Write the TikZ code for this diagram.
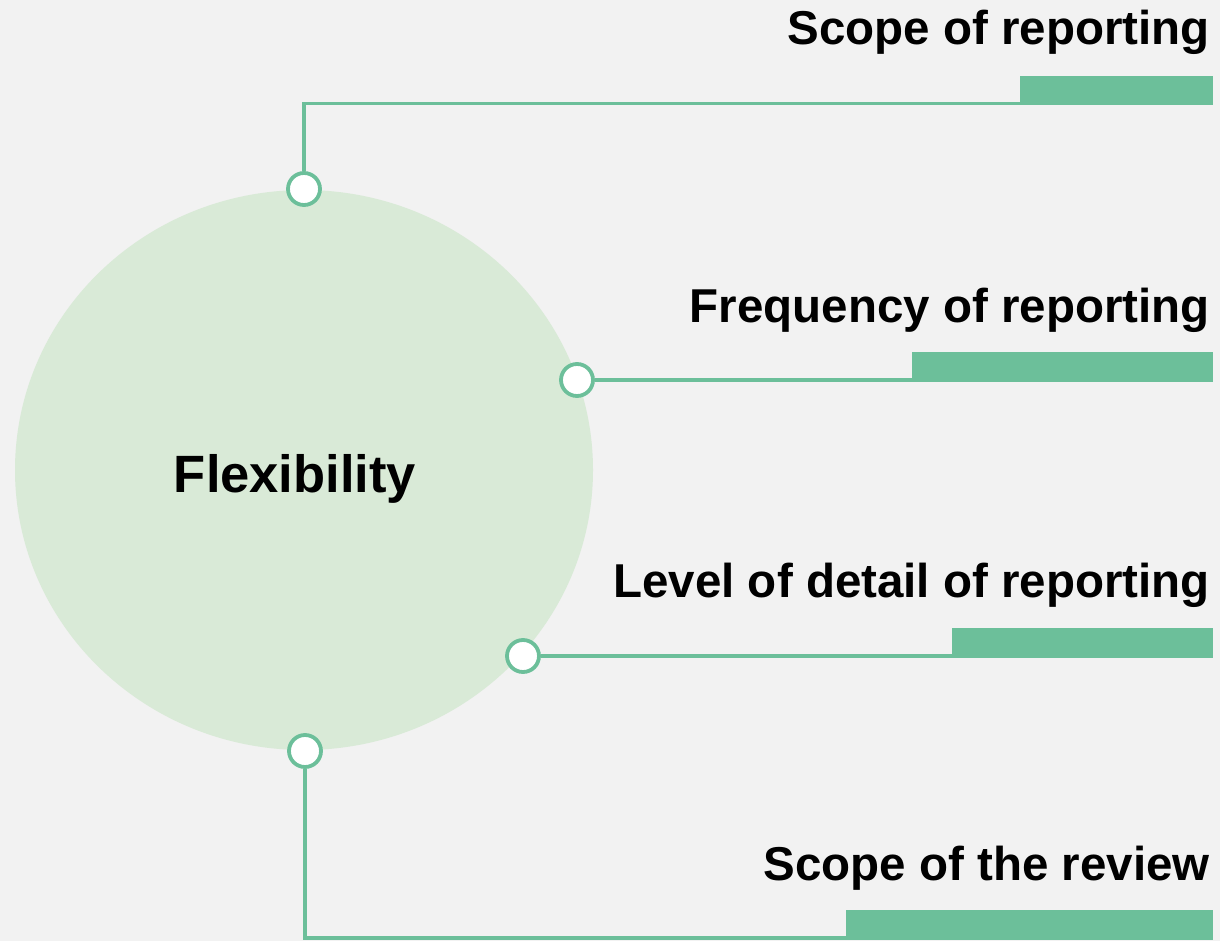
\documentclass[tikz,border=0pt]{standalone}
\usepackage{fontspec}
\setmainfont{Liberation Sans}
\usetikzlibrary{shapes.geometric}
\definecolor{bg}{HTML}{F2F2F2}
\definecolor{hubfill}{HTML}{D9EAD7}
\definecolor{accent}{HTML}{6CBF9A}
\begin{document}
\begin{tikzpicture}[x=1pt,y=-1pt,
  hub/.style={ellipse, fill=hubfill, draw=none, inner sep=0pt, minimum width=578pt, minimum height=560pt},
  dot/.style={circle, draw=accent, line width=3.8pt, fill=white, minimum size=32pt, inner sep=0pt},
  bar/.style={rectangle, fill=accent, draw=none, inner sep=0pt, minimum height=29.5pt, anchor=south east},
  conn/.style={draw=accent, line width=3.8pt},
  lbl/.style={anchor=base east, inner sep=0pt, font=\fontsize{47.5}{57}\selectfont\bfseries, text=black}]
  \path[use as bounding box, fill=bg] (0,0) rectangle (1220,941);
  % hub
  \node[hub] (hub) at (304,470) {};
  \node[anchor=base, inner sep=0pt, font=\fontsize{52.5}{63}\selectfont\bfseries] (hubtext) at (295,492) {Flexibility};
  % bars
  \node[bar, minimum width=193pt] (b1) at (1213,105.4) {};
  \node[bar, minimum width=301pt] (b2) at (1213,381.9) {};
  \node[bar, minimum width=261pt] (b3) at (1213,657.9) {};
  \node[bar, minimum width=367pt] (b4) at (1213,939.9) {};
  % labels
  \node[lbl] (t1) at (1210,45) {Scope of reporting};
  \node[lbl] (t2) at (1210,322) {Frequency of reporting};
  \node[lbl] (t3) at (1210,597) {Level of detail of reporting};
  \node[lbl] (t4) at (1210,880) {Scope of the review};
  % dots
  \node[dot] (d1) at (304,189) {};
  \node[dot] (d2) at (577,380) {};
  \node[dot] (d3) at (523,656) {};
  \node[dot] (d4) at (305,751) {};
  % connectors
  \draw[conn] (d1) |- ([yshift=1.9pt]b1.south west);
  \draw[conn] (d2) -- (d2 -| b2.west);
  \draw[conn] (d3) -- (d3 -| b3.west);
  \draw[conn] (d4) |- ([yshift=1.9pt]b4.south west);
\end{tikzpicture}
\end{document}
